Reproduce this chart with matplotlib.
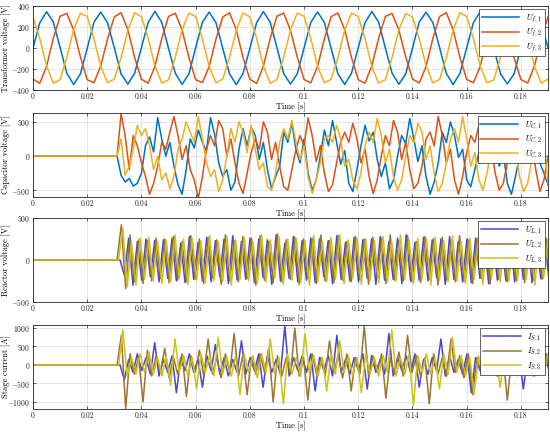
import matplotlib
matplotlib.use("Agg")
import matplotlib.pyplot as plt
import numpy as np

plt.rcParams['font.family'] = 'serif'
plt.rcParams['font.serif'] = ['cmr10', 'DejaVu Serif']
plt.rcParams['mathtext.fontset'] = 'cm'
plt.rcParams['axes.formatter.use_mathtext'] = True

# ---- transformer voltages, sampled every 2.5 ms from t = 0 ----
dt_tr = 0.0025
u_f1 = [0, 240, 346, 247, 4, -242, -348, -245,
        -3, 246, 343, 240, 2, -247, -344, -241,
        5, 243, 349, 244, -4, -240, -346, -248,
        2, 247, 342, 241, -2, -245, -349, -243,
        -4, 241, 347, 246, 3, -243, -343, -246,
        1, 245, 344, 242, -5, -246, -347, -240,
        4, 242, 348, 247, 0, -241, -345, -247,
        -2, 248, 341, 243, 5, -244, -348, -242,
        3, 243, 346, 245, -3, -247, -342, -245,
        0, 246, 343, 241, 2]
u_f2 = [-296, -336, -175, 92, 302, 330, 169, -86,
        -301, -331, -170, 87, 297, 336, 174, -91,
        -298, -334, -173, 90, 300, 331, 171, -88,
        -302, -330, -176, 86, 296, 335, 175, -92,
        -297, -337, -171, 91, 303, 332, 168, -87,
        -300, -332, -174, 88, 298, 334, 173, -90,
        -303, -335, -169, 93, 301, 329, 170, -85,
        -295, -333, -177, 89, 299, 337, 172, -89,
        -299, -331, -172, 85, 304, 333, 176, -93,
        -300, -334, -170, 88, 297]
u_f3 = [296, 92, -169, -336, -301, -86, 175, 331,
        302, 87, -174, -330, -297, -92, 170, 336,
        298, 90, -171, -334, -303, -88, 173, 330,
        301, 85, -176, -332, -296, -90, 169, 335,
        297, 93, -170, -337, -300, -87, 176, 332,
        303, 88, -173, -331, -298, -91, 171, 334,
        299, 86, -175, -335, -302, -89, 174, 329,
        295, 91, -168, -333, -299, -93, 172, 337,
        300, 89, -172, -330, -304, -85, 170, 333,
        298, 92, -174, -336, -297]

# ---- capacitor voltages, every 1.5 ms from t = 0.031 (zero before) ----
t_on = 0.031
dt_cap = 0.0015
u_c1 = [0, -280, -380, -330, -440, -400, -250, 150, 280, 60,
        560, 250, 0, 200, -150, -420, -560, -200, 250, 120,
        380, 200, 80, 560, 320, -100, -300, -200, -500, -380,
        100, 400, 150, 420, 300, -50, 200, -200, -480, -300,
        -150, 350, 200, 480, 100, -100, 250, -250, -500, -350,
        0, 380, 150, 520, 200, -120, 80, -400, -520, -200,
        150, 450, 220, 350, -50, -300, -100, -480, -350, 0,
        300, 180, 550, 250, -80, 150, -300, -560, -380, -100,
        350, 200, 500, 300, -20, 100, -350, -450, -200, 50,
        420, 250, 560, 200, -150, 50, -400, -560, -300, 0,
        300, 150, 450, 250, -100, -250, -420]
u_c2 = [0, 620, 300, -200, 300, 150, -100, -300, -560, -400,
        -150, 200, 100, 350, 580, 300, -50, 150, -200, -350,
        -620, -300, 100, 300, 150, 520, 400, 0, 250, -100,
        -400, -550, -250, 50, 250, 100, 500, 350, -50, 200,
        -150, -450, -500, -200, 100, 300, 150, 560, 300, -80,
        150, -250, -520, -420, -100, 200, 350, 200, 480, 250,
        -100, 100, -300, -550, -350, 0, 300, 150, 520, 350,
        -50, 200, -200, -480, -400, -150, 250, 350, 150, 580,
        300, -100, 100, -350, -560, -300, 50, 300, 200, 450,
        250, -50, 150, -250, -500, -400, -100, 300, 200, 550,
        300, -80, 200, -200, -520, -350, 0]
u_c3 = [0, 250, -280, -150, 100, 450, 300, 400, 150, -200,
        0, -350, -250, -480, -300, 100, 250, 500, 350, 200,
        580, 250, -100, -300, -200, -520, -350, 0, 400, 200,
        500, 350, 50, 450, 100, -200, -100, -450, -500, -250,
        200, 400, 250, 520, 200, -50, 150, -300, -550, -350,
        -100, 250, 300, 200, 450, 250, -150, -50, -350, -480,
        -250, 150, 350, 200, 550, 300, -100, 100, -300, -500,
        -350, 0, 300, 200, 480, 350, -50, 150, -250, -520,
        -400, -100, 250, 400, 200, 580, 250, -150, 50, -350,
        -500, -250, 100, 350, 150, 500, 300, -100, 100, -300,
        -520, -400, -50, 250, 400, 200, -400]

# ---- reactor voltages, peaks every 1.6 ms ----
dt_fast = 0.0016
u_l1 = [0, -180, 260, -300, 220, -240, 250, -200, 230, -260,
        240, -220, 260, -250, 200, -270, 280, -230, 210, -250,
        270, -260, 230, -200, 250, -280, 290, -240, 220, -230,
        260, -270, 250, -210, 240, -290, 300, -250, 200, -220,
        280, -260, 230, -240, 260, -270, 250, -200, 230, -280,
        290, -230, 210, -250, 270, -260, 240, -220, 250, -290,
        280, -240, 220, -230, 260, -280, 300, -250, 210, -240,
        270, -250, 240, -210, 250, -290, 280, -230, 220, -260,
        250, -270, 260, -220, 230, -280, 290, -240, 210, -250,
        270, -260, 240, -230, 250, -270, 260, -220, 230, -280,
        260]
u_l2 = [0, 420, -340, 300, -260, 240, -280, 230, -250, 260,
        -220, 250, -270, 280, -240, 220, -260, 290, -230, 250,
        -280, 270, -210, 240, -290, 300, -250, 230, -260, 280,
        -220, 260, -300, 290, -240, 220, -270, 310, -260, 240,
        -230, 270, -290, 250, -220, 260, -280, 300, -250, 230,
        -270, 290, -240, 220, -260, 280, -230, 250, -290, 270,
        -210, 260, -280, 300, -240, 230, -250, 290, -260, 220,
        -270, 280, -230, 250, -300, 270, -240, 220, -260, 290,
        -250, 240, -280, 260, -220, 250, -290, 280, -230, 240,
        -260, 300, -250, 220, -270, 280, -240, 250, -230, 260,
        -280]
u_l3 = [0, 380, -320, 200, -300, 260, -230, 270, -250, 220,
        -280, 240, -260, 300, -220, 250, -290, 260, -240, 230,
        -270, 290, -250, 220, -260, 280, -300, 240, -230, 270,
        -250, 220, -280, 300, -260, 240, -220, 280, -290, 250,
        -240, 260, -270, 230, -300, 290, -250, 220, -260, 270,
        -230, 300, -280, 240, -220, 260, -290, 250, -240, 230,
        -270, 280, -260, 220, -250, 300, -230, 240, -280, 260,
        -220, 250, -300, 270, -240, 230, -260, 290, -250, 220,
        -280, 260, -230, 250, -290, 240, -220, 300, -260, 230,
        -250, 270, -240, 280, -230, 250, -300, 260, -220, 240,
        -260]

# ---- stage currents, peaks every 1.6 ms ----
i_s1 = [0, -400, 150, -200, 300, -150, 200, -250, 600, -300,
        150, -200, 250, -750, 200, -150, 300, -200, 150, -600,
        250, -150, 550, -250, 200, -300, 150, -200, 650, -250,
        200, -150, 300, -600, 250, -200, 150, -250, 1050, -300,
        200, -150, 250, -200, 300, -700, 200, -150, 250, -300,
        800, -200, 150, -250, 200, -150, 300, -650, 250, -200,
        150, -250, 850, -300, 200, -150, 250, -200, 300, -600,
        150, -250, 200, -150, 700, -300, 250, -200, 150, -250,
        300, -750, 200, -150, 250, -200, 600, -300, 150, -250,
        200, -150, 300, -650, 250, -200, 150, -250, 300, -200,
        150]
i_s2 = [0, 800, -1180, 300, -250, 200, -1000, 400, -300, 250,
        -200, 450, -350, 200, -250, 300, -850, 250, -200, 400,
        -300, 700, -250, 200, -350, 300, -200, 850, -300, 250,
        -800, 200, -250, 300, -200, 450, -1000, 250, -300, 200,
        -250, 1000, -300, 200, -950, 300, -250, 200, -300, 650,
        -200, 250, -350, 300, -700, 200, -250, 1050, -300, 250,
        -200, 300, -900, 200, -250, 350, -300, 800, -200, 250,
        -300, 200, -1050, 300, -250, 200, -300, 700, -200, 250,
        -350, 300, -800, 200, -250, 300, -200, 650, -300, 250,
        -950, 200, -250, 300, -200, 600, -300, 250, -200, 300,
        -250]
i_s3 = [0, 950, -300, 200, -250, 300, -200, 350, -250, 200,
        -300, 250, -550, 700, -200, 250, -300, 200, -650, 300,
        -200, 250, -300, 750, -250, 200, -300, 250, -800, 300,
        -200, 250, -350, 300, -200, 700, -250, 200, -1050, 300,
        -250, 200, -300, 850, -200, 250, -300, 200, -700, 300,
        -250, 650, -200, 250, -300, 200, -750, 300, -250, 200,
        -300, 250, -200, 950, -300, 200, -250, 300, -1100, 250,
        -200, 300, -250, 200, -650, 300, -250, 750, -200, 250,
        -300, 200, -800, 250, -200, 300, -250, 200, -600, 300,
        -250, 200, -300, 650, -200, 250, -300, 200, -250, 300,
        -200]

col_a = ['#0072BD', '#D95319', '#EDB120']
col_b = ['#4a44d2', '#9a7430', '#cbc21a']
x_ticks = [0, 0.02, 0.04, 0.06, 0.08, 0.1, 0.12, 0.14, 0.16, 0.18]
x_ticklabels = ['0', '0.02', '0.04', '0.06', '0.08', '0.1', '0.12', '0.14', '0.16', '0.18']


def series(vals, t0, dt):
    t = t0 + dt * np.arange(len(vals))
    return np.r_[0.0, t], np.r_[0.0, vals]


fig = plt.figure(figsize=(5.5, 4.33), dpi=100)
tops = [6, 113, 218, 325]
h_px = 84
axes = []
for top in tops:
    ax = fig.add_axes([33 / 550, 1 - (top + h_px) / 433, 515 / 550, h_px / 433])
    axes.append(ax)

ax = axes[0]
t = dt_tr * np.arange(len(u_f1))
for v, c, lab in zip([u_f1, u_f2, u_f3], col_a, [r'$U_{f,1}$', r'$U_{f,2}$', r'$U_{f,3}$']):
    ax.plot(t, v, color=c, lw=1.1, label=lab)
ax.set_ylim(-400, 400)
ax.set_yticks([-400, -200, 0, 200, 400])
ax.set_ylabel('Transformer voltage [V]')

ax = axes[1]
for v, c, lab in zip([u_c1, u_c2, u_c3], col_a, [r'$U_{C,1}$', r'$U_{C,2}$', r'$U_{C,3}$']):
    x, y = series(v, t_on, dt_cap)
    ax.plot(x, y, color=c, lw=1.1, label=lab)
ax.set_ylim(-600, 630)
ax.set_yticks([-500, 0, 500])
ax.set_ylabel('Capacitor voltage [V]')

ax = axes[2]
for v, t0, c, lab in zip([u_l1, u_l2, u_l3], [0.0321, 0.031, 0.03155], col_b,
                         [r'$U_{L,1}$', r'$U_{L,2}$', r'$U_{L,3}$']):
    x, y = series(v, t0, dt_fast)
    ax.plot(x, y, color=c, lw=1.1, label=lab)
ax.set_ylim(-500, 500)
ax.set_yticks([-500, 0, 500])
ax.set_ylabel('Reactor voltage [V]')

ax = axes[3]
for v, t0, c, lab in zip([i_s1, i_s2, i_s3], [0.0321, 0.031, 0.03155], col_b,
                         [r'$I_{S,1}$', r'$I_{S,2}$', r'$I_{S,3}$']):
    x, y = series(v, t0, dt_fast)
    ax.plot(x, y, color=c, lw=1.1, label=lab)
ax.set_ylim(-1190, 1080)
ax.set_yticks([-1000, -500, 0, 500, 1000])
ax.set_ylabel('Stage current [A]')

for ax in axes:
    ax.set_xlim(0, 0.19)
    ax.set_xticks(x_ticks)
    ax.set_xticklabels(x_ticklabels)
    ax.set_xlabel('Time [s]', fontsize=6, labelpad=1)
    ax.yaxis.label.set_size(6)
    ax.yaxis.set_label_coords(-0.043, 0.5)
    ax.grid(True, color='#dcdcdc', lw=0.5)
    ax.set_axisbelow(True)
    ax.tick_params(direction='in', length=2, width=0.5, labelsize=5.5, pad=2,
                   colors='#262626', top=True, right=True)
    for s in ax.spines.values():
        s.set_color('#262626')
        s.set_linewidth(0.6)
    leg = ax.legend(loc='upper right', fontsize=6, fancybox=False, framealpha=1,
                    edgecolor='#262626', handlelength=4.5, borderpad=0.35,
                    labelspacing=0.2, handletextpad=0.8, borderaxespad=0.4)
    leg.get_frame().set_linewidth(0.5)

fig.savefig('out.png', dpi=100)
